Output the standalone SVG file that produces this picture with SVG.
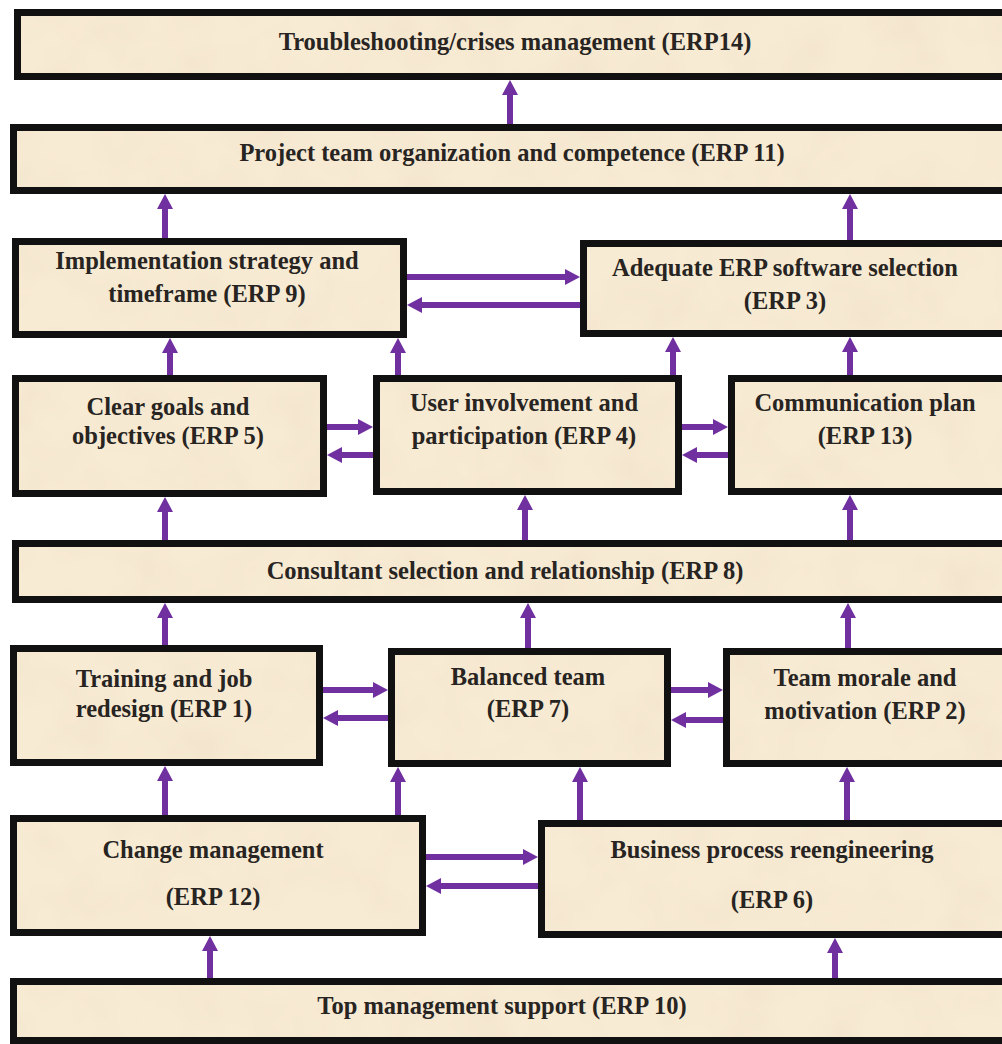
<svg xmlns="http://www.w3.org/2000/svg" width="1002" height="1044" viewBox="0 0 1002 1044">
  <defs>
    <!-- parchment texture for the box fills -->
    <filter id="grain" x="0" y="0" width="100%" height="100%">
      <feTurbulence type="fractalNoise" baseFrequency="0.018" numOctaves="3" seed="7" result="n"/>
      <feColorMatrix in="n" type="matrix" values="0 0 0 0 0.82  0 0 0 0 0.70  0 0 0 0 0.52  0.55 0 0 0 -0.2"/>
    </filter>
    <pattern id="paper" patternUnits="userSpaceOnUse" x="0" y="0" width="1002" height="1044">
      <rect width="1002" height="1044" fill="#F8EBD4"/>
      <rect width="1002" height="1044" filter="url(#grain)"/>
    </pattern>
    <marker id="head" markerUnits="userSpaceOnUse" markerWidth="15" markerHeight="16" refX="4" refY="8" orient="auto">
      <path d="M0,0 L15,8 L0,16 z" fill="#7030A0"/>
    </marker>
    <style>
      .box { fill: url(#paper); stroke: #111; stroke-width: 7; }
      .lbl { font-family: "Liberation Serif", "Times New Roman", serif; font-weight: bold; font-size: 24.5px; fill: #272422; text-anchor: middle; }
      .arr { stroke: #7030A0; stroke-width: 6; fill: none; marker-end: url(#head); }
    </style>
  </defs>

  <rect width="1002" height="1044" fill="#ffffff"/>

  <g id="erp14">
    <rect class="box" x="17.5" y="12.5" width="1000" height="64"/>
    <text class="lbl" x="515" y="50">Troubleshooting/crises management (ERP14)</text>
  </g>
  <g id="erp11">
    <rect class="box" x="13.5" y="127.5" width="1004" height="63"/>
    <text class="lbl" x="512" y="161">Project team organization and competence (ERP 11)</text>
  </g>
  <g id="erp9">
    <rect class="box" x="15.5" y="241.5" width="388" height="93"/>
    <text class="lbl" x="207" y="269">Implementation strategy and</text>
    <text class="lbl" x="207" y="302">timeframe (ERP 9)</text>
  </g>
  <g id="erp3">
    <rect class="box" x="583.5" y="243.5" width="430" height="90"/>
    <text class="lbl" x="785" y="276">Adequate ERP software selection</text>
    <text class="lbl" x="785" y="309">(ERP 3)</text>
  </g>
  <g id="erp5">
    <rect class="box" x="15.5" y="378.5" width="308" height="115"/>
    <text class="lbl" x="168" y="415">Clear goals and</text>
    <text class="lbl" x="168" y="444">objectives (ERP 5)</text>
  </g>
  <g id="erp4">
    <rect class="box" x="376.5" y="378.5" width="302" height="113"/>
    <text class="lbl" x="524" y="411">User involvement and</text>
    <text class="lbl" x="524" y="444">participation (ERP 4)</text>
  </g>
  <g id="erp13">
    <rect class="box" x="731.5" y="378.5" width="300" height="113"/>
    <text class="lbl" x="865" y="411">Communication plan</text>
    <text class="lbl" x="865" y="444">(ERP 13)</text>
  </g>
  <g id="erp8">
    <rect class="box" x="15.5" y="543.5" width="1000" height="56"/>
    <text class="lbl" x="505" y="579">Consultant selection and relationship (ERP 8)</text>
  </g>
  <g id="erp1">
    <rect class="box" x="13.5" y="648.5" width="306" height="114"/>
    <text class="lbl" x="164" y="687">Training and job</text>
    <text class="lbl" x="164" y="717">redesign (ERP 1)</text>
  </g>
  <g id="erp7">
    <rect class="box" x="391.5" y="651.5" width="276" height="112"/>
    <text class="lbl" x="528" y="685">Balanced team</text>
    <text class="lbl" x="528" y="717">(ERP 7)</text>
  </g>
  <g id="erp2">
    <rect class="box" x="726.5" y="651.5" width="300" height="112"/>
    <text class="lbl" x="865" y="686">Team morale and</text>
    <text class="lbl" x="865" y="719">motivation (ERP 2)</text>
  </g>
  <g id="erp12">
    <rect class="box" x="13.5" y="818.5" width="409" height="114"/>
    <text class="lbl" x="213" y="858">Change management</text>
    <text class="lbl" x="213" y="905">(ERP 12)</text>
  </g>
  <g id="erp6">
    <rect class="box" x="541.5" y="823.5" width="480" height="111"/>
    <text class="lbl" x="772" y="858">Business process reengineering</text>
    <text class="lbl" x="772" y="908">(ERP 6)</text>
  </g>
  <g id="erp10">
    <rect class="box" x="13.5" y="981.5" width="1004" height="59"/>
    <text class="lbl" x="502" y="1014">Top management support (ERP 10)</text>
  </g>

  <!-- connectors: each line stops 11px short of the tip; the marker draws the head -->
  <g id="connectors">
    <path class="arr" d="M510,124 V91"/>
    <path class="arr" d="M165,238 V205"/>
    <path class="arr" d="M850,240 V205"/>
    <path class="arr" d="M407,277 H569"/>
    <path class="arr" d="M580,305 H418"/>
    <path class="arr" d="M170,375 V349"/>
    <path class="arr" d="M398,375 V349"/>
    <path class="arr" d="M673,375 V348"/>
    <path class="arr" d="M850,375 V348"/>
    <path class="arr" d="M327,427 H362"/>
    <path class="arr" d="M373,455 H338"/>
    <path class="arr" d="M682,427 H717"/>
    <path class="arr" d="M728,455 H693"/>
    <path class="arr" d="M165,540 V508"/>
    <path class="arr" d="M525,540 V506"/>
    <path class="arr" d="M850,540 V506"/>
    <path class="arr" d="M165,645 V614"/>
    <path class="arr" d="M528,648 V614"/>
    <path class="arr" d="M848,648 V614"/>
    <path class="arr" d="M323,690 H377"/>
    <path class="arr" d="M388,718 H334"/>
    <path class="arr" d="M671,690 H712"/>
    <path class="arr" d="M723,720 H682"/>
    <path class="arr" d="M165,815 V777"/>
    <path class="arr" d="M398,815 V778"/>
    <path class="arr" d="M580,820 V778"/>
    <path class="arr" d="M847,820 V778"/>
    <path class="arr" d="M426,857 H527"/>
    <path class="arr" d="M538,886 H437"/>
    <path class="arr" d="M210,978 V947"/>
    <path class="arr" d="M835,978 V949"/>
  </g>
</svg>
